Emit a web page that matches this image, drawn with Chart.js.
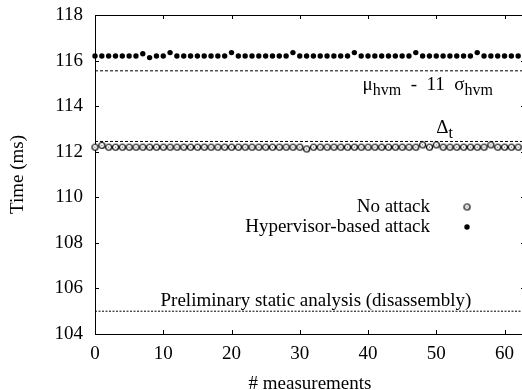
<!DOCTYPE html>
<html>
<head>
<meta charset="utf-8">
<script src="https://cdn.jsdelivr.net/npm/chart.js@4.4.1/dist/chart.umd.min.js"></script>
<style>
  html, body { margin: 0; padding: 0; background: #fff; overflow: hidden; }
  #wrap { width: 522px; height: 390px; overflow: hidden; }
  canvas { display: block; }
</style>
</head>
<body>
<div id="wrap"><canvas id="chart" width="530" height="400"></canvas></div>
<script>
// ── Data ──
const noAttack = [
  112.2, 112.28, 112.2, 112.2, 112.2, 112.2, 112.2, 112.2, 112.2, 112.2,
  112.2, 112.2, 112.2, 112.2, 112.2, 112.2, 112.2, 112.2, 112.2, 112.2,
  112.2, 112.2, 112.2, 112.2, 112.2, 112.2, 112.2, 112.2, 112.2, 112.2,
  112.2, 112.12, 112.2, 112.2, 112.2, 112.2, 112.2, 112.2, 112.2, 112.2,
  112.2, 112.2, 112.2, 112.2, 112.2, 112.2, 112.2, 112.2, 112.3, 112.2,
  112.3, 112.2, 112.2, 112.2, 112.2, 112.2, 112.2, 112.2, 112.3, 112.2,
  112.2, 112.2, 112.2
];
const hypervisorAttack = [
  116.2, 116.2, 116.2, 116.2, 116.2, 116.2, 116.2, 116.3, 116.13, 116.2,
  116.2, 116.35, 116.2, 116.2, 116.2, 116.2, 116.2, 116.2, 116.2, 116.2,
  116.35, 116.2, 116.2, 116.2, 116.2, 116.2, 116.2, 116.2, 116.2, 116.35,
  116.2, 116.2, 116.2, 116.2, 116.2, 116.2, 116.2, 116.2, 116.35, 116.2,
  116.2, 116.2, 116.2, 116.2, 116.2, 116.2, 116.2, 116.35, 116.2, 116.2,
  116.2, 116.2, 116.2, 116.2, 116.2, 116.2, 116.35, 116.2, 116.2, 116.2,
  116.2, 116.2, 116.2
];
const hvmBound = 115.55;     // mu_hvm - 11 sigma_hvm
const deltaT = 112.45;       // Delta_t
const staticBound = 105;     // preliminary static analysis
const xTicks = [0, 10, 20, 30, 40, 50, 60];
const yTicks = [104, 106, 108, 110, 112, 114, 116, 118];
const xRange = [0, 63];
const yRange = [104, 118];

const serif = "'Liberation Serif', 'DejaVu Serif', serif";

// open circle with a small centre dot, like the gnuplot marker
function makeRing() {
  const c = document.createElement('canvas');
  c.width = 9; c.height = 9;
  const g = c.getContext('2d');
  g.fillStyle = '#fff';
  g.strokeStyle = '#000';
  g.lineWidth = 1.2;
  g.beginPath(); g.arc(4.5, 4.5, 3, 0, Math.PI * 2); g.fill(); g.stroke();
  g.fillStyle = '#555';
  g.fillRect(4, 4, 1, 1);
  return c;
}
const ring = makeRing();

function toPoints(arr) {
  return arr.map((v, i) => ({ x: i, y: v }));
}
function hLine(v) {
  return [{ x: xRange[0], y: v }, { x: xRange[1], y: v }];
}

function drawRich(ctx, parts, x, base) {
  parts.forEach(p => {
    ctx.font = (p.sub ? '16px ' : '19px ') + serif;
    ctx.fillText(p.t, x, base + (p.sub ? 5 : 0));
    x += ctx.measureText(p.t).width;
  });
}

// ── Frame, inward ticks, labels and legend ──
const decor = {
  id: 'decor',
  beforeDatasetsDraw(chart) {
    const { ctx, chartArea: a, scales: { x, y } } = chart;
    ctx.save();
    ctx.strokeStyle = '#000';
    ctx.lineWidth = 1;
    ctx.strokeRect(a.left + 0.5, a.top + 0.5, a.right - a.left, a.bottom - a.top);
    ctx.beginPath();
    yTicks.forEach(v => {
      const py = Math.round(y.getPixelForValue(v)) + 0.5;
      ctx.moveTo(a.left, py); ctx.lineTo(a.left + 4, py);
      ctx.moveTo(a.right - 4, py); ctx.lineTo(a.right, py);
    });
    xTicks.forEach(v => {
      const px = Math.round(x.getPixelForValue(v)) + 0.5;
      ctx.moveTo(px, a.bottom); ctx.lineTo(px, a.bottom - 4);
      ctx.moveTo(px, a.top); ctx.lineTo(px, a.top + 4);
    });
    ctx.stroke();
    ctx.restore();
  },
  afterDatasetsDraw(chart) {
    const { ctx, scales: { x, y } } = chart;
    ctx.save();
    ctx.fillStyle = '#000';
    ctx.textBaseline = 'alphabetic';
    ctx.textAlign = 'left';

    drawRich(ctx, [
      { t: 'μ' }, { t: 'hvm', sub: true }, { t: '  -  11  ' }, { t: 'σ' }, { t: 'hvm', sub: true }
    ], x.getPixelForValue(39.2), y.getPixelForValue(hvmBound) + 19);

    drawRich(ctx, [{ t: 'Δ' }, { t: 't', sub: true }],
      x.getPixelForValue(50), y.getPixelForValue(deltaT) - 8);

    ctx.font = '19px ' + serif;
    ctx.fillText('Preliminary static analysis (disassembly)',
      x.getPixelForValue(9.6), y.getPixelForValue(staticBound) - 5);

    // legend
    ctx.textAlign = 'right';
    ctx.textBaseline = 'middle';
    ctx.fillText('No attack', 430, 207);
    ctx.fillText('Hypervisor-based attack', 430, 227);
    ctx.drawImage(ring, 467 - 4.5, 207 - 4.5);
    ctx.beginPath(); ctx.arc(467, 227, 2.7, 0, Math.PI * 2); ctx.fill();
    ctx.restore();
  }
};

const dashed = {
  type: 'line', borderColor: '#000', borderWidth: 1, borderDash: [3, 2],
  pointRadius: 0, fill: false
};

new Chart(document.getElementById('chart'), {
  type: 'scatter',
  data: {
    datasets: [
      Object.assign({ label: 'static', data: hLine(staticBound) }, dashed, { borderDash: [2, 1.5] }),
      Object.assign({ label: 'delta', data: hLine(deltaT) }, dashed),
      Object.assign({ label: 'hvm', data: hLine(hvmBound) }, dashed),
      {
        label: 'No attack',
        data: toPoints(noAttack),
        pointStyle: ring,
        clip: false
      },
      {
        label: 'Hypervisor-based attack',
        data: toPoints(hypervisorAttack),
        pointStyle: 'circle',
        pointRadius: 2.7,
        backgroundColor: '#000',
        borderWidth: 0,
        clip: false
      }
    ]
  },
  options: {
    responsive: false,
    animation: false,
    devicePixelRatio: 1,
    layout: { padding: { top: 15, right: 4, left: 0, bottom: 0 } },
    plugins: { legend: { display: false }, tooltip: { enabled: false } },
    scales: {
      x: {
        type: 'linear',
        min: xRange[0], max: xRange[1],
        afterBuildTicks: s => { s.ticks = xTicks.map(v => ({ value: v })); },
        afterFit: s => { s.height = 66; s.paddingLeft = 0; s.paddingRight = 0; },
        grid: { display: false, drawTicks: false },
        border: { display: false },
        ticks: { color: '#000', padding: 9, maxRotation: 0, font: { family: serif, size: 19 } },
        title: {
          display: true, text: '# measurements', color: '#000',
          font: { family: serif, size: 19 }, padding: { top: 0, bottom: 5 }
        }
      },
      y: {
        type: 'linear',
        min: yRange[0], max: yRange[1],
        afterBuildTicks: s => { s.ticks = yTicks.map(v => ({ value: v })); },
        afterFit: s => { s.width = 95; s.paddingTop = 0; s.paddingBottom = 0; },
        grid: { display: false, drawTicks: false },
        border: { display: false },
        ticks: { color: '#000', padding: 12, font: { family: serif, size: 19 } },
        title: {
          display: true, text: 'Time (ms)', color: '#000',
          font: { family: serif, size: 19 }, padding: { top: 7, bottom: 0 }
        }
      }
    }
  },
  plugins: [decor]
});
</script>
</body>
</html>
